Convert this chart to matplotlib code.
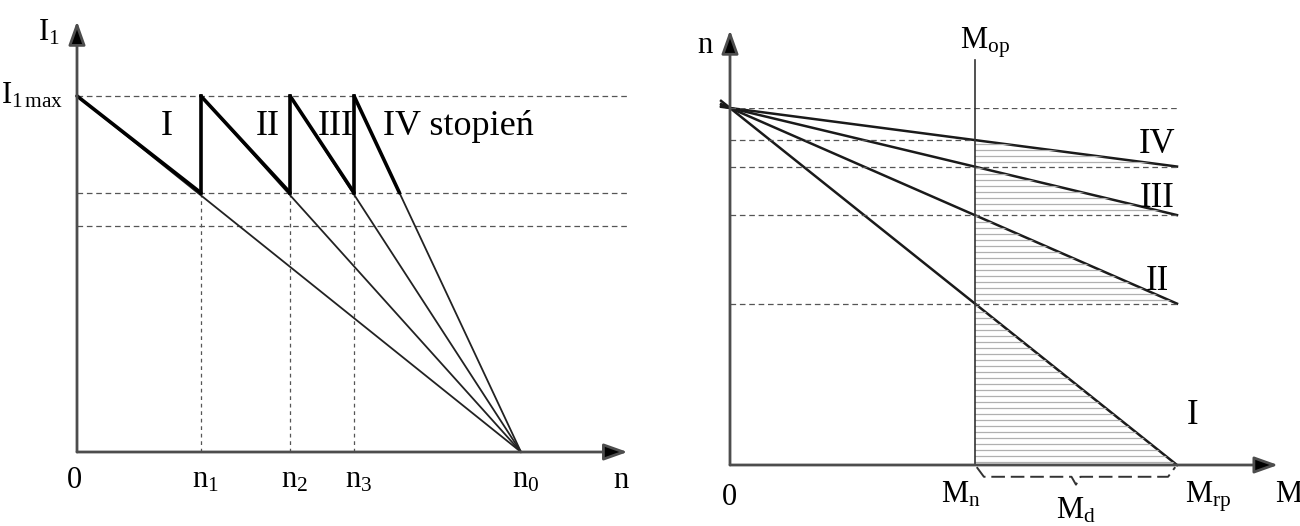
import numpy as np
import matplotlib
matplotlib.use("Agg")
import matplotlib.pyplot as plt
from matplotlib.patches import Polygon

plt.rcParams["font.family"] = ["Liberation Serif", "DejaVu Serif"]
plt.rcParams["mathtext.fontset"] = "custom"
plt.rcParams["mathtext.rm"] = "Liberation Serif"
plt.rcParams["mathtext.it"] = "Liberation Serif"

# --- left diagram: rotor current vs speed, four resistor stages ---
n0 = 1.0
i_max = 1.0
i_switch = 0.728          # current at which the next stage is switched in
i_low = 0.635             # second reference level
n_stage = [0.0, 0.279, 0.480, 0.624]   # speed where each stage starts at I1max
n_ticks = ["n$_1$", "n$_2$", "n$_3$"]
stage_names = ["I", "II", "III", "IV stopień"]

# --- right diagram: mechanical characteristics n(M) ---
m_op = 0.548              # load torque M_op (= M_n)
m_rp = 1.0                # peak starting torque
n_at_mrp = [0.0, 0.452, 0.700, 0.836]  # speed of each characteristic at M_rp
char_names = ["I", "II", "III", "IV"]

AX = "#4d4d4d"
DASH = (0, (4.5, 3))
SUB = 22

fig = plt.figure(figsize=(13, 5.26), dpi=100)
axl = fig.add_axes([77 / 1300, 74 / 526, 444 / 1300, 356 / 526])
axr = fig.add_axes([730 / 1300, 61 / 526, 447 / 1300, 357 / 526])
for ax in (axl, axr):
    ax.set_xlim(0, 1)
    ax.set_ylim(0, 1)
    ax.axis("off")


def axes_arrows(ax, xtip, ytip):
    kw = dict(arrowstyle="-|>,head_length=0.9,head_width=0.32", color=AX, lw=2.0,
              shrinkA=0, shrinkB=0, mutation_scale=16)
    ax.annotate("", xy=(xtip, 0), xytext=(0, 0), arrowprops=dict(kw, fc="black"),
                annotation_clip=False)
    ax.annotate("", xy=(0, ytip), xytext=(0, 0), arrowprops=dict(kw, fc="black"),
                annotation_clip=False)


# ---------------- left ----------------
axes_arrows(axl, 1.24, 1.21)
for lvl in (i_max, i_switch, i_low):
    axl.plot([0, 1.24], [lvl, lvl], color="#555555", lw=0.9, ls=DASH, clip_on=False)
for n in n_stage[1:]:
    axl.plot([n, n], [0, i_switch], color="#555555", lw=0.9, ls=(0, (3, 3)))

ends = n_stage[1:] + [None]
for k, (ns, ne) in enumerate(zip(n_stage, ends)):
    # full characteristic from (n_k, I1max) down to n0
    axl.plot([ns, n0], [i_max, 0], color="#222222", lw=1.3, clip_on=False)
    if ne is None:
        ne = ns + (n0 - ns) * (i_max - i_switch) / i_max
    axl.plot([ns, ne], [i_max, i_switch], color="black", lw=2.6,
             solid_capstyle="round", clip_on=False)
    if k > 0:
        axl.plot([ns, ns], [i_switch, i_max], color="black", lw=2.6, clip_on=False)

axl.text(-0.038, 1.157, r"I$_1$", ha="right", va="baseline", fontsize=SUB)
axl.text(-0.03, 0.98, r"I$_{1\,\mathrm{max}}$", ha="right", va="baseline", fontsize=SUB)
axl.text(-0.005, -0.10, "0", ha="center", va="baseline", fontsize=SUB)
for n, t in zip(n_stage[1:], n_ticks):
    axl.text(n + 0.01, -0.10, t, ha="center", va="baseline", fontsize=SUB)
axl.text(n0 + 0.01, -0.10, "n$_0$", ha="center", va="baseline", fontsize=SUB)
axl.text(1.225, -0.10, "n", ha="center", va="baseline", fontsize=SUB)
label_x = [0.203, 0.43, 0.583, 0.689]
for x, t in zip(label_x, stage_names):
    axl.text(x, 0.89, t, ha="left" if " " in t else "center", va="baseline",
             fontsize=26)

# ---------------- right ----------------
axes_arrows(axr, 1.226, 1.218)
m_line = np.array([-0.02, m_rp])
cross = []
for ne in n_at_mrp:
    axr.plot(m_line, 1 - (1 - ne) * m_line / m_rp, color="#1a1a1a", lw=1.8,
             clip_on=False)
    cross.append(1 - (1 - ne) * m_op / m_rp)

# hatched area between M_op and the active characteristic of each stage
verts = [(m_op, 0.0)]
for ne, c in zip(n_at_mrp, cross):
    verts += [(m_rp, ne), (m_op, c)]
hatch_poly = Polygon(verts, closed=True, fc="none", ec="none")
axr.add_patch(hatch_poly)
for y in np.arange(0.008, max(cross), 6 / 357):
    ln, = axr.plot([m_op, m_rp], [y, y], color="#b0b0b0", lw=0.9)
    ln.set_clip_path(hatch_poly)

axr.plot([0, m_rp], [1, 1], color="#555555", lw=0.9, ls=DASH)
for c in cross[:-1]:
    axr.plot([0, m_rp], [c, c], color="#555555", lw=0.9, ls=DASH)
axr.plot([0, m_op], [cross[-1], cross[-1]], color="#555555", lw=0.9, ls=DASH)
axr.plot([m_op, m_op], [0, 1.134], color="#333333", lw=1.2, clip_on=False)

# dashed brace under M_n .. M_rp
mid = (m_op + m_rp) / 2
yb = -0.033
brace_x = [m_op + 0.004, m_op + 0.02, mid - 0.01, mid, mid + 0.01, m_rp - 0.02, m_rp - 0.004]
brace_y = [-0.006, yb, yb, yb - 0.022, yb, yb, -0.006]
axr.plot(brace_x, brace_y, color="#333333", lw=1.4, ls=(0, (7, 3)), clip_on=False)

axr.text(-0.056, 1.154, "n", ha="center", va="baseline", fontsize=SUB)
axr.text(0.515, 1.168, r"M$_{\mathrm{op}}$", ha="left", va="baseline", fontsize=SUB)
axr.text(-0.002, -0.112, "0", ha="center", va="baseline", fontsize=SUB)
axr.text(0.472, -0.104, r"M$_{\mathrm{n}}$", ha="left", va="baseline", fontsize=SUB)
axr.text(1.018, -0.104, r"M$_{\mathrm{rp}}$", ha="left", va="baseline", fontsize=SUB)
axr.text(1.219, -0.104, "M", ha="left", va="baseline", fontsize=SUB)
axr.text(mid, -0.15, r"M$_{\mathrm{d}}$", ha="center", va="baseline", fontsize=SUB)
name_pos = [(1.034, 0.115), (0.955, 0.49), (0.955, 0.723), (0.955, 0.874)]
for (x, y), t in zip(name_pos, char_names):
    axr.text(x, y, t, ha="center", va="baseline", fontsize=25)

fig.savefig("out.png", dpi=100)
